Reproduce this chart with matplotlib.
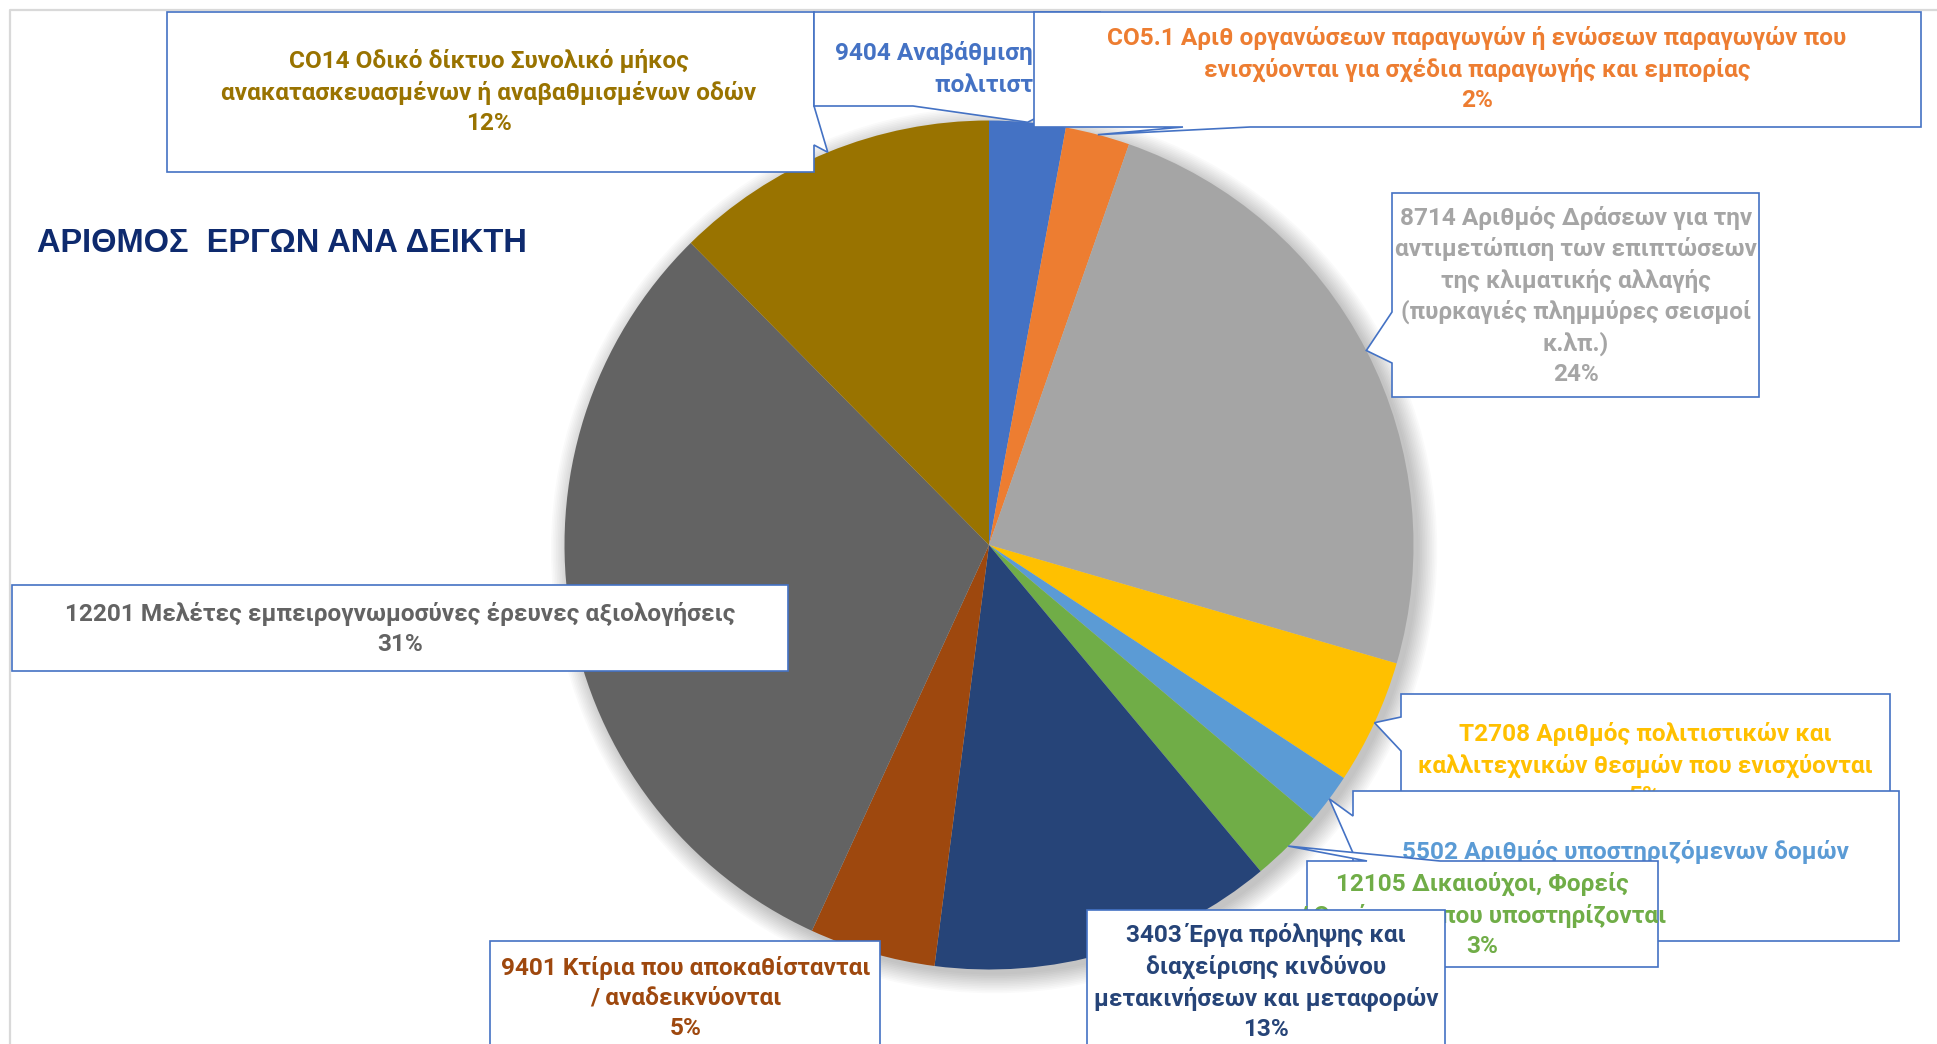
import numpy as np
import matplotlib
matplotlib.use("Agg")
import matplotlib.pyplot as plt
from matplotlib.patches import Polygon, Circle

W, H = 1937, 1044

# data (percent of projects per indicator), clockwise from 12 o'clock
codes = ["9404", "CO5.1", "8714", "T2708", "5502", "12105", "3403", "9401", "12201", "CO14"]
names = [
    "9404 Αναβάθμιση υποδομών και χώρων\nπολιτιστικών φορέων",
    "CO5.1 Αριθ οργανώσεων παραγωγών ή ενώσεων παραγωγών που\nενισχύονται για σχέδια παραγωγής και εμπορίας",
    "8714 Αριθμός Δράσεων για την\nαντιμετώπιση των επιπτώσεων\nτης κλιματικής αλλαγής\n(πυρκαγιές πλημμύρες σεισμοί\nκ.λπ.)",
    "T2708 Αριθμός πολιτιστικών και\nκαλλιτεχνικών θεσμών που ενισχύονται",
    "5502 Αριθμός υποστηριζόμενων δομών",
    "12105 Δικαιούχοι, Φορείς\n/ Οντότητες που υποστηρίζονται",
    "3403 Έργα πρόληψης και\nδιαχείρισης κινδύνου\nμετακινήσεων και μεταφορών",
    "9401 Κτίρια που αποκαθίστανται\n/ αναδεικνύονται",
    "12201 Μελέτες εμπειρογνωμοσύνες έρευνες αξιολογήσεις",
    "CO14 Οδικό δίκτυο Συνολικό μήκος\nανακατασκευασμένων ή αναβαθμισμένων οδών",
]
values = [2.9, 2.45, 24.15, 4.75, 1.9, 2.8, 13.1, 4.8, 30.75, 12.4]
colors = ["#4472C4", "#ED7D31", "#A5A5A5", "#FFC000", "#5B9BD5",
          "#70AD47", "#264478", "#9E480E", "#636363", "#997300"]

# label boxes in pixels (left, top, right, bottom), text centre, pointer side/span
boxes = {
    "CO14": ((167, 12, 814, 172), (489, 92), ("right", 106, 145)),
    "9404": ((814, 12, 1100, 106), (1060, 84), ("bottom", 913, 1060)),
    "CO5.1": ((1034, 12, 1921, 127), (1477, 69), ("bottom", 1183, 1250)),
    "8714": ((1392, 193, 1759, 397), (1576, 296), ("left", 312, 363)),
    "T2708": ((1401, 694, 1890, 840), (1645, 765), ("left", 717, 751)),
    "5502": ((1353, 791, 1899, 941), (1626, 867), ("left", 816, 853)),
    "12105": ((1307, 861, 1658, 967), (1482, 915), ("top", 1367, 1440)),
    "3403": ((1087, 910, 1445, 1080), (1266, 982), None),
    "9401": ((490, 941, 880, 1080), (686, 998), None),
    "12201": ((12, 585, 788, 671), (400, 629), None),
}
draw_order = ["CO14", "9404", "CO5.1", "8714", "T2708", "5502", "12105", "3403", "9401", "12201"]

plt.rcParams["font.family"] = ["Roboto", "DejaVu Sans"]

fig = plt.figure(figsize=(W / 100, H / 100), dpi=100)
fig.patch.set_facecolor("white")

cx, cy, r = 989, 545, 424.5
ax = fig.add_axes([(cx - r) / W, (H - cy - r) / H, 2 * r / W, 2 * r / H])
ax.axis("off")

# soft shadow
for k in range(12):
    ax.add_patch(Circle((0.012, -0.012), 1.0 + 0.004 * k, color="black",
                        alpha=0.018, lw=0, zorder=0, clip_on=False))

wedges, _ = ax.pie(values, colors=colors, startangle=90, counterclock=False,
                   radius=1, wedgeprops=dict(linewidth=0))
for w in wedges:
    w.set_zorder(2)
ax.set_xlim(-1, 1)
ax.set_ylim(-1, 1)

total = sum(values)
tips = {}
for code, w in zip(codes, wedges):
    mid = np.deg2rad((w.theta1 + w.theta2) / 2)
    xd, yd = ax.transData.transform((np.cos(mid), np.sin(mid)))
    tips[code] = (xd, H - yd)

ov = fig.add_axes([0, 0, 1, 1], facecolor="none")
ov.set_xlim(0, W)
ov.set_ylim(H, 0)
ov.axis("off")

# chart area border
ov.plot([10, 10, W], [H, 10, 10], color="#D9D9D9", lw=1.6, zorder=1)

ov.text(37, 243, "ΑΡΙΘΜΟΣ  ΕΡΓΩΝ ΑΝΑ ΔΕΙΚΤΗ", family="Liberation Sans",
        fontweight="bold", fontsize=23.5, color="#0E2A6E", ha="left", va="center", zorder=2)


def callout(rect, pointer, tip):
    l, t, rr, b = rect
    pts = [(l, t)]
    side = pointer[0] if pointer else None
    if side == "top":
        pts += [(pointer[1], t), tip, (pointer[2], t)]
    pts.append((rr, t))
    if side == "right":
        pts += [(rr, pointer[1]), tip, (rr, pointer[2])]
    pts.append((rr, b))
    if side == "bottom":
        pts += [(pointer[2], b), tip, (pointer[1], b)]
    pts.append((l, b))
    if side == "left":
        pts += [(l, pointer[2]), tip, (l, pointer[1])]
    return pts


for i, code in enumerate(draw_order):
    k = codes.index(code)
    rect, (tx, ty), pointer = boxes[code]
    poly = Polygon(callout(rect, pointer, tips[code]), closed=True, facecolor="white",
                   edgecolor="#4472C4", lw=1.2, zorder=10 + 2 * i, joinstyle="miter")
    ov.add_patch(poly)
    pct = values[k] / total * 100
    label = f"{names[k]}\n{pct:.0f}%"
    txt = ov.text(tx, ty, label, ha="center", va="center", multialignment="center",
                  fontsize=17.6, fontweight="bold", color=colors[k],
                  linespacing=1.39, zorder=11 + 2 * i)
    txt.set_clip_path(poly)

fig.savefig("out.png", dpi=100, facecolor="white")
